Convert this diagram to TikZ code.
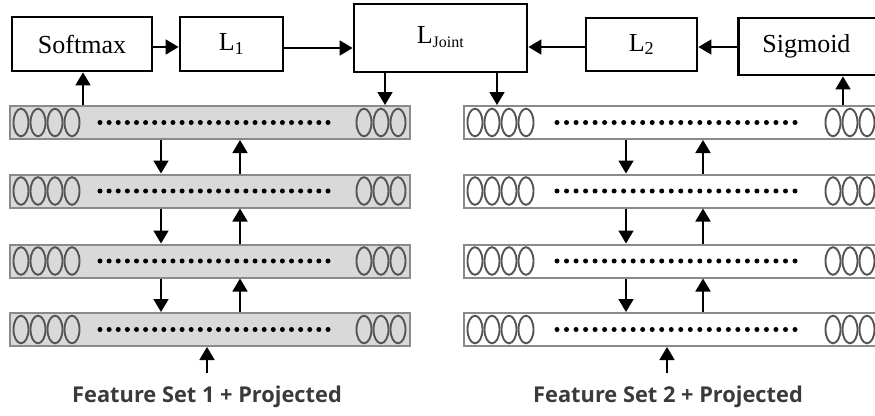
\documentclass[tikz,border=0pt]{standalone}
\usepackage{fontspec}
\setmainfont{Liberation Serif}
\newfontfamily\labfont{Open Sans}
\usetikzlibrary{arrows.meta,calc}
\definecolor{laygray}{HTML}{D9D9D9}
\definecolor{layedge}{HTML}{8A8A8A}
\definecolor{ovalc}{HTML}{555555}
\definecolor{labc}{HTML}{3A3A3A}
\tikzset{
  boxn/.style={draw=black,line width=2.8pt,fill=white,inner sep=0pt,font=\fontsize{26}{28}\selectfont},
  arr/.style={line width=1.8pt,-{Triangle[length=13pt,width=15pt]}},
  layerL/.style={draw=layedge,line width=2pt,fill=laygray,minimum height=33pt,inner sep=0pt},
  layerR/.style={draw=layedge,line width=2pt,fill=white,minimum height=33pt,inner sep=0pt},
  oval/.style={draw=ovalc,line width=1.9pt},
  lab/.style={font=\labfont\fontsize{21.8}{23}\selectfont\bfseries,text=labc}
}
\begin{document}
\begin{tikzpicture}[x=1pt,y=-1pt]
\useasboundingbox (0,0) rectangle (875,415);
% top boxes
\node[boxn,minimum width=140pt,minimum height=54pt] (soft) at (82,44) {Softmax};
\node[boxn,minimum width=103pt,minimum height=54pt] (l1) at (231.5,44) {L\textsubscript{1}};
\node[boxn,minimum width=173pt,minimum height=68pt,text depth=0pt] (lj) at (440.5,38) {\raisebox{6pt}{L\textsubscript{\fontsize{16}{16}\selectfont Joint}}};
\node[boxn,minimum width=111pt,minimum height=53pt] (l2) at (641.5,44.5) {L\textsubscript{2}};
\node[boxn,minimum width=140pt,minimum height=57pt,anchor=west] (sig) at (737,46.5) {\hspace*{-4pt}Sigmoid};
% layers
\foreach \i/\y in {a/122.5,b/191,c/261,d/329.5}{
  \node[layerL,minimum width=400pt] (L\i) at (210,\y) {};
  \node[layerR,minimum width=440pt,anchor=west] (R\i) at (463,\y) {};
  \foreach \x in {21,38,55,72,364,381,398}{
    \draw[oval] (\x,\y) ellipse [x radius=7.5pt,y radius=13.8pt];
  }
  \foreach \x in {475,492,509,526,833,850,867}{
    \draw[oval] (\x,\y) ellipse [x radius=7.5pt,y radius=13.8pt];
  }
  \foreach \k in {0,...,25}{
    \fill ({100+\k*9.12},\y) circle (2.5pt);
    \fill ({557+\k*9.52},\y) circle (2.5pt);
  }
}
% coordinates for arrow positions
\coordinate (xs) at (83,0);
\coordinate (xj1) at (385,0);
\coordinate (xj2) at (497,0);
\coordinate (xg) at (843,0);
\coordinate (dl) at (161,0);
\coordinate (ul) at (240,0);
\coordinate (dr) at (626,0);
\coordinate (ur) at (703,0);
\coordinate (in1) at (207,373);
\coordinate (in2) at (667,373);
% top arrows
\draw[arr] (soft.east |- 0,47) -- (l1.west |- 0,47);
\draw[arr] (l1.east |- 0,48) -- (lj.west |- 0,48);
\draw[arr] (l2.west |- 0,47) -- (lj.east |- 0,47);
\draw[arr] (sig.west |- 0,47) -- (l2.east |- 0,47);
\draw[arr] (La.north -| xs) -- (soft.south -| xs);
\draw[arr] (lj.south -| xj1) -- (La.north -| xj1);
\draw[arr] (lj.south -| xj2) -- (Ra.north -| xj2);
\draw[arr] (Ra.north -| xg) -- (sig.south -| xg);
% between layers
\foreach \p/\q in {a/b,b/c,c/d}{
  \draw[arr] (L\p.south -| dl) -- (L\q.north -| dl);
  \draw[arr] (L\q.north -| ul) -- (L\p.south -| ul);
  \draw[arr] (R\p.south -| dr) -- (R\q.north -| dr);
  \draw[arr] (R\q.north -| ur) -- (R\p.south -| ur);
}
% inputs
\draw[arr] (in1) -- (Ld.south -| in1);
\draw[arr] (in2) -- (Rd.south -| in2);
% labels
\node[lab] (f1) at (207,397) {Feature Set 1 + Projected};
\node[lab] (f2) at (668,397) {Feature Set 2 + Projected};
\end{tikzpicture}
\end{document}
